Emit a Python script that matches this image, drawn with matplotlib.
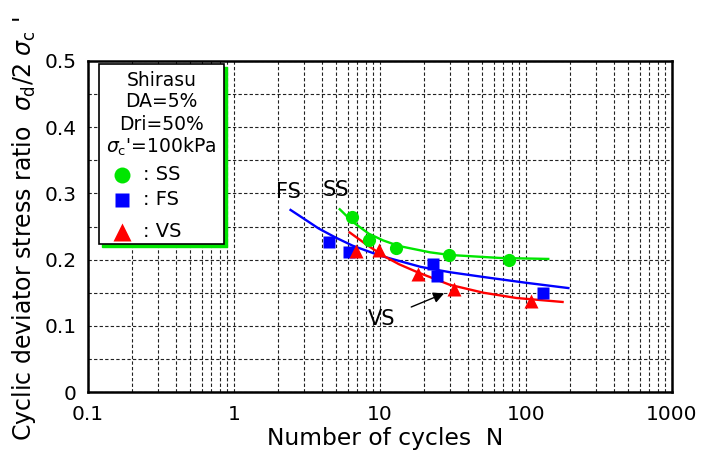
import matplotlib
matplotlib.use("Agg")
import matplotlib.pyplot as plt
from matplotlib.patches import Rectangle
from matplotlib.lines import Line2D

plt.rcParams['font.family'] = ['DejaVu Sans']

# ---- data ----
ss_n = [6.4, 8.4, 12.8, 29.9, 76]
ss_r = [0.264, 0.229, 0.217, 0.207, 0.200]
fs_n = [4.5, 6.1, 23.1, 24.4, 131.5]
fs_r = [0.226, 0.211, 0.194, 0.175, 0.149]
vs_n = [6.8, 9.9, 18.1, 32.3, 109]
vs_r = [0.2135, 0.215, 0.178, 0.156, 0.137]

ss_curve_n = [5.3, 6.5, 8.4, 10.5, 13.5, 22, 30, 66, 142]
ss_curve_r = [0.276, 0.257, 0.239, 0.229, 0.2205, 0.211, 0.207, 0.2025, 0.201]
fs_curve_n = [2.44, 3.0, 3.8, 5.0, 6.5, 10, 19, 30, 54, 100, 195]
fs_curve_r = [0.275, 0.262, 0.247, 0.233, 0.221, 0.206, 0.189, 0.181, 0.173, 0.165, 0.157]
vs_curve_n = [6.2, 8.1, 10.5, 13.5, 17.8, 30, 51, 86, 178]
vs_curve_r = [0.241, 0.2225, 0.206, 0.193, 0.1815, 0.162, 0.150, 0.142, 0.136]

x_ticks = [0.1, 1, 10, 100, 1000]
x_ticklabels = ['0.1', '1', '10', '100', '1000']
y_ticks = [0, 0.1, 0.2, 0.3, 0.4, 0.5]
y_ticklabels = ['0', '0.1', '0.2', '0.3', '0.4', '0.5']

GREEN = '#00e600'
BLUE = '#0000ff'
RED = '#ff0000'

W, H = 704, 454
fig = plt.figure(figsize=(W / 100, H / 100), dpi=100)
ax = fig.add_axes([88 / W, (H - 392) / H, 584 / W, 331 / H])

ax.set_xscale('log')
ax.set_xlim(0.1, 1000)
ax.set_ylim(0, 0.5)

# grid
ax.set_xticks(x_ticks)
ax.set_xticklabels(x_ticklabels)
ax.set_yticks(y_ticks)
ax.set_yticklabels(y_ticklabels)
ax.set_yticks([0.05, 0.15, 0.25, 0.35, 0.45], minor=True)
ax.grid(True, which='both', axis='both', color='#222222',
        linestyle=(0, (3, 2)), linewidth=0.8)
ax.tick_params(which='both', length=0)
ax.tick_params(axis='x', labelsize=14.5, pad=9)
ax.tick_params(axis='y', labelsize=14.5, pad=8)
ax.xaxis.set_minor_formatter(matplotlib.ticker.NullFormatter())
for sp in ax.spines.values():
    sp.set_linewidth(1.8)
    sp.set_color('black')
ax.set_axisbelow(True)

# curves
ax.plot(ss_curve_n, ss_curve_r, color=GREEN, lw=1.7, zorder=3)
ax.plot(fs_curve_n, fs_curve_r, color=BLUE, lw=1.7, zorder=3)
ax.plot(vs_curve_n, vs_curve_r, color=RED, lw=1.7, zorder=3)

# points
ax.plot(ss_n, ss_r, 'o', color=GREEN, ms=9.5, mec='none', zorder=4)
ax.plot(fs_n, fs_r, 's', color=BLUE, ms=8.2, mec='none', zorder=4)
ax.plot(vs_n, vs_r, '^', color=RED, ms=9.5, mec='none', zorder=4)

# curve labels
ax.text(2.35, 0.3026, 'FS', fontsize=15, ha='center', va='center', zorder=5)
ax.text(5.0, 0.3056, 'SS', fontsize=15, ha='center', va='center', zorder=5)
ax.annotate('VS', xy=(27.5, 0.149), xytext=(10.3, 0.110), fontsize=15,
            ha='center', va='center', zorder=5,
            arrowprops=dict(arrowstyle='-|>', color='black', lw=1.0,
                            mutation_scale=16, shrinkA=10, shrinkB=0))

# legend box
x0, x1 = (99 - 88) / 584, (224 - 88) / 584
yb, yt = (392 - 244) / 331, (392 - 64) / 331
dx, dy = 3 / 584, 3 / 331
ax.add_patch(Rectangle((x0 + dx, yb - dy), x1 - x0, yt - yb, transform=ax.transAxes,
                       facecolor=GREEN, edgecolor=GREEN, lw=1.0, zorder=6))
ax.add_patch(Rectangle((x0, yb), x1 - x0, yt - yb, transform=ax.transAxes,
                       facecolor='white', edgecolor='black', lw=1.2, zorder=7))
cx = (x0 + x1) / 2
lines = ['Shirasu', 'DA=5%', 'Dri=50%', r"$\sigma_{\mathrm{c}}$'=100kPa"]
ys = [80, 101.7, 125, 146.7]
for t, yy in zip(lines, ys):
    ax.text(cx, (392 - yy) / 331, t, transform=ax.transAxes, fontsize=13.5,
            ha='center', va='center', zorder=8)
mx = (121.7 - 88) / 584
lx = (143 - 88) / 584
leg = [('o', GREEN, 11.5, ': SS', 175), ('s', BLUE, 10, ': FS', 200),
       ('^', RED, 13, ': VS', 231.7)]
for m, c, s, lab, yy in leg:
    yf = (392 - yy) / 331
    ax.add_line(Line2D([mx], [yf], marker=m, color=c, ms=s, mec='none',
                       transform=ax.transAxes, zorder=8))
    ax.text(lx, yf, lab, transform=ax.transAxes, fontsize=14,
            ha='left', va='center', zorder=8)

# axis labels
fig.text(385 / W, (H - 445) / H, 'Number of cycles  N', fontsize=16.8,
         ha='center', va='baseline')
fig.text(24 / W, (H - 229) / H,
         r"Cyclic deviator stress ratio  $\sigma_{\mathrm{d}}$/2 $\sigma_{\mathrm{c}}$ '",
         fontsize=17, rotation=90, ha='center', va='center')

fig.savefig('out.png', dpi=100)
